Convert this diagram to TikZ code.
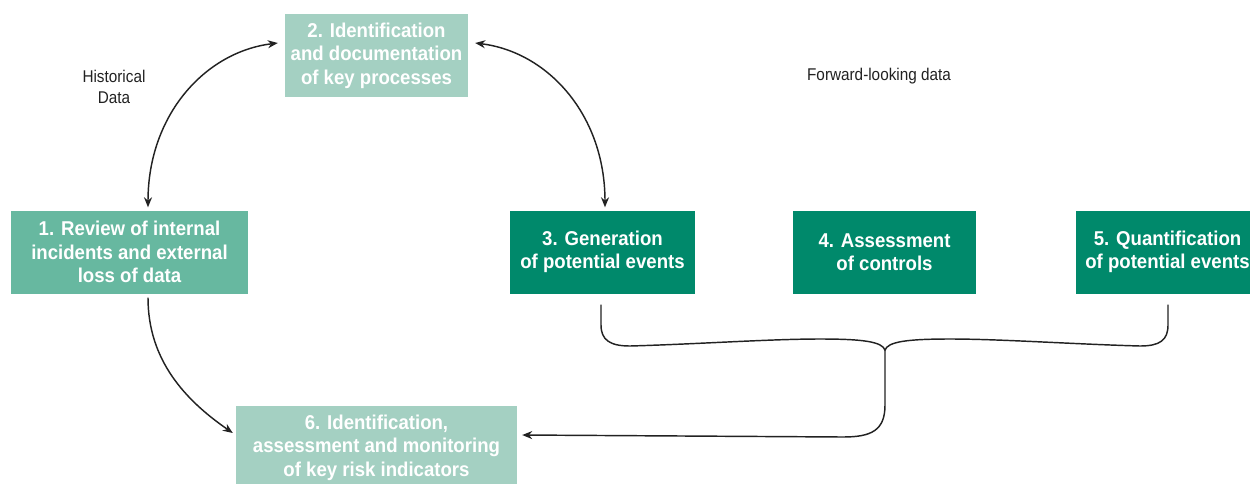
\documentclass[tikz,border=0pt]{standalone}
\usepackage{fontspec}
\setmainfont{Liberation Sans}
\newfontfamily\boxfont[FakeStretch=0.93]{Liberation Sans}
\newfontfamily\labfont[FakeStretch=0.9]{Liberation Sans}
\usetikzlibrary{arrows.meta}
\definecolor{lightg}{HTML}{A4D0C2}
\definecolor{midg}{HTML}{67B8A0}
\definecolor{darkg}{HTML}{00896B}
\definecolor{linec}{HTML}{222222}
\begin{document}
\begin{tikzpicture}[x=1pt,y=-1pt,
  box/.style={minimum height=83pt, inner sep=1pt, align=center, text=white,
    font=\boxfont\bfseries\fontsize{20pt}{23.5pt}\selectfont},
  lab/.style={align=center, text=linec, inner sep=0pt,
    font=\labfont\fontsize{17pt}{21pt}\selectfont},
  link/.style={draw=linec, line width=1.45pt},
  tipped/.style={-{Stealth[length=10pt,width=8pt]}},
  dtipped/.style={{Stealth[length=10pt,width=8pt]}-{Stealth[length=10pt,width=8pt]}}
]
\clip (0,0) rectangle (1250,483);
\fill[white] (0,0) rectangle (1250,483);

\node[box, fill=lightg, minimum width=183pt] (b2) at (376.5,55.5) {2. Identification\\and documentation\\of key processes};
\node[box, fill=midg, minimum width=237pt] (b1) at (129.5,252) {1. Review of internal\\incidents and external\\loss of data};
\node[box, fill=darkg, minimum width=185pt] (b3) at (602.5,252) {3. Generation\\of potential events};
\node[box, fill=darkg, minimum width=183pt] (b4) at (884.5,252) {4. Assessment\\of controls};
\node[box, fill=darkg, minimum width=183pt] (b5) at (1167.5,252) {5. Quantification\\of potential events};
\node[box, fill=lightg, minimum width=281pt] (b6) at (376.5,447.5) {6. Identification,\\assessment and monitoring\\of key risk indicators};

\node[lab] (hist) at (114,87) {Historical\\Data};
\node[lab] (fwd) at (879,76) {Forward-looking data};

% 2 <-> 1
\draw[link, dtipped]
  ([xshift=-7pt,yshift=12.5pt]b2.west) .. controls (205,52) and (148,115) .. ([xshift=18.5pt,yshift=3pt]b1.north);
% 2 <-> 3
\draw[link, dtipped]
  ([xshift=7pt,yshift=12.5pt]b2.east) .. controls (548,52) and (605,115) .. ([xshift=2.5pt,yshift=3pt]b3.north);
% 1 -> 6
\draw[link, tipped]
  ([xshift=18.5pt,yshift=-4pt]b1.south) .. controls (148,360) and (185,400) .. ([xshift=-3pt,yshift=14.5pt]b6.west);

% brace from 3 to 5
\coordinate (cusp) at (885,350);
\draw[link]
  ([xshift=-1.5pt,yshift=-11pt]b3.south) -- (601,325)
  .. controls (601,340) and (610,346) .. (630,346)
  .. controls (700,344) and (770,339) .. (820,339)
  .. controls (865,339) and (882,342) .. (cusp)
  .. controls (888,342) and (905,339) .. (950,339)
  .. controls (1000,339) and (1070,344) .. (1140,346)
  .. controls (1160,346) and (1168,340) .. (1168,325)
  -- ([xshift=0.5pt,yshift=-11pt]b5.south);
% stem to 6
\draw[link, tipped]
  (cusp) -- (885,405) .. controls (885,430) and (872,437) .. (843,437)
  -- ([xshift=5pt,yshift=12.5pt]b6.east);
\end{tikzpicture}
\end{document}
